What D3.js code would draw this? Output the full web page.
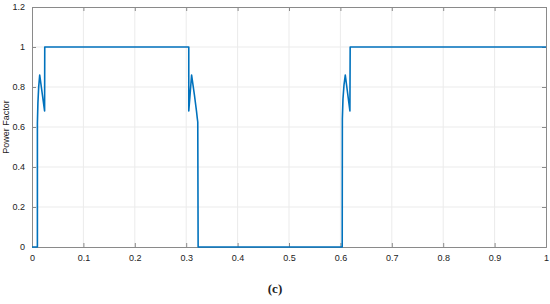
<!DOCTYPE html>
<html>
<head>
<meta charset="utf-8">
<script src="https://cdn.jsdelivr.net/npm/d3@7"></script>
<style>
  body { margin: 0; background: #fff; }
  text { font-family: "Liberation Sans", Arial, sans-serif; }
</style>
</head>
<body>
<div class="canvas"></div>
<script>
// time (s) and power factor samples
const timeVals = [0, 0.0105, 0.0105, 0.0115, 0.013, 0.015, 0.0245, 0.0248, 0.305, 0.305, 0.3105, 0.316,
  0.32, 0.3215, 0.3225, 0.3232, 0.6035, 0.6038, 0.605, 0.607, 0.6095, 0.6185, 0.619, 1];
const pfVals = [0, 0, 0.62, 0.72, 0.8, 0.86, 0.68, 1, 1, 0.68, 0.86, 0.76,
  0.68, 0.645, 0.625, 0, 0, 0.64, 0.74, 0.81, 0.86, 0.68, 1, 1];
const xTicks = [0, 0.1, 0.2, 0.3, 0.4, 0.5, 0.6, 0.7, 0.8, 0.9, 1];
const yTicks = [0, 0.2, 0.4, 0.6, 0.8, 1, 1.2];

const width = 550;
const height = 304;
const plotLeft = 32, plotRight = 546, plotTop = 7, plotBottom = 247;

const svg = d3.select(".canvas").append("svg")
  .attr("width", width)
  .attr("height", height);

const x = d3.scaleLinear().domain([0, 1]).range([plotLeft, plotRight]);
const y = d3.scaleLinear().domain([0, 1.2]).range([plotBottom, plotTop]);

const grid = svg.append("g");
grid.selectAll(".gx").data(xTicks.slice(1, -1)).enter().append("line")
  .attr("x1", d => x(d)).attr("x2", d => x(d))
  .attr("y1", plotTop).attr("y2", plotBottom)
  .attr("stroke", "#ebebeb").attr("stroke-width", 1);
grid.selectAll(".gy").data(yTicks.slice(1, -1)).enter().append("line")
  .attr("x1", plotLeft).attr("x2", plotRight)
  .attr("y1", d => y(d)).attr("y2", d => y(d))
  .attr("stroke", "#ebebeb").attr("stroke-width", 1);

const frameColor = "#8a8a8a";

// axes (ticks inside like matlab)
const xAxis = svg.append("g").attr("transform", `translate(0,${plotBottom})`)
  .call(d3.axisBottom(x).tickValues(xTicks).tickSize(-4).tickPadding(8).tickFormat(d3.format("")));
const xAxisTop = svg.append("g").attr("transform", `translate(0,${plotTop})`)
  .call(d3.axisTop(x).tickValues(xTicks).tickSize(-4).tickFormat(""));
const yAxis = svg.append("g").attr("transform", `translate(${plotLeft},0)`)
  .call(d3.axisLeft(y).tickValues(yTicks).tickSize(-4).tickPadding(7).tickFormat(d3.format("")));
const yAxisRight = svg.append("g").attr("transform", `translate(${plotRight},0)`)
  .call(d3.axisRight(y).tickValues(yTicks).tickSize(-4).tickFormat(""));

[xAxis, xAxisTop, yAxis, yAxisRight].forEach(a => {
  a.selectAll("path").attr("stroke", frameColor);
  a.selectAll("line").attr("stroke", frameColor);
  a.selectAll("text").attr("fill", "#222").attr("font-size", 9)
    .attr("font-family", "'Liberation Sans', Arial, sans-serif");
});

svg.append("text")
  .text("Power Factor")
  .attr("transform", `translate(9,${(plotTop + plotBottom) / 2}) rotate(-90)`)
  .attr("text-anchor", "middle")
  .attr("font-size", 9)
  .attr("fill", "#222");

const pts = timeVals.map((t, i) => [t, pfVals[i]]);
const line = d3.line().x(d => x(d[0])).y(d => y(d[1]));

svg.append("path")
  .datum(pts)
  .attr("d", line)
  .attr("fill", "none")
  .attr("stroke", "#0072bd")
  .attr("stroke-width", 1.6)
  .attr("stroke-linejoin", "round");

svg.append("text")
  .text("(c)")
  .attr("x", 275)
  .attr("y", 293)
  .attr("text-anchor", "middle")
  .style("font-family", "'Liberation Serif', 'DejaVu Serif', serif")
  .attr("font-weight", "bold")
  .attr("font-size", 13)
  .attr("fill", "#222");
</script>
</body>
</html>
